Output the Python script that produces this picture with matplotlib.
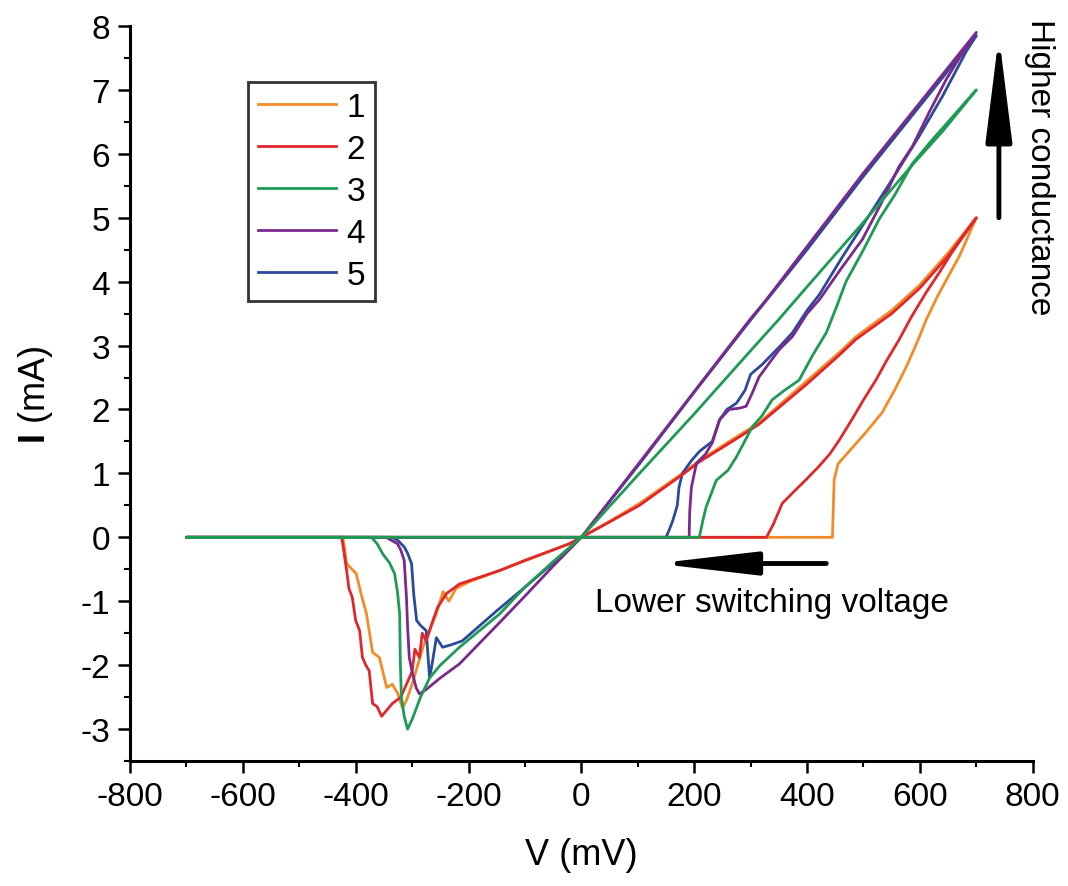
import matplotlib
matplotlib.use("Agg")
import matplotlib.pyplot as plt
from matplotlib.ticker import MultipleLocator

plt.rcParams['font.family'] = ['Liberation Sans', 'DejaVu Sans']
plt.rcParams['axes.unicode_minus'] = False
plt.rcParams['mathtext.fontset'] = 'custom'
plt.rcParams['mathtext.bf'] = 'Liberation Sans:bold'
plt.rcParams['mathtext.rm'] = 'Liberation Sans'

# sweep order: 0 -> +700 (set) -> 0 -> negative (reset) -> -700 -> 0
v1 = [0, 445, 448, 455, 475, 505, 533, 555, 576, 595, 611, 630, 647, 670, 685, 700,
      650, 600, 550, 487, 457, 400, 315, 280, 209, 179, 103, 50, 0,
      -21, -100, -145, -200, -222, -235, -245, -257, -269, -280, -290, -300, -310, -317,
      -325, -335, -345, -358, -370, -381, -390, -399, -416, -420, -423, -700, 0]
i1 = [0, 0, 0.9, 1.15, 1.35, 1.65, 1.95, 2.3, 2.67, 3.05, 3.4, 3.75, 4.03, 4.4, 4.7, 5.0,
      4.45, 3.95, 3.55, 3.14, 2.89, 2.45, 1.79, 1.6, 1.2, 1.0, 0.53, 0.25, 0,
      -0.1, -0.37, -0.52, -0.7, -0.8, -1.0, -0.85, -1.19, -1.46, -1.7, -2.0, -2.3, -2.55, -2.67,
      -2.45, -2.3, -2.35, -1.88, -1.8, -1.19, -0.9, -0.57, -0.41, -0.15, 0, 0, 0]

v2 = [0, 328, 340, 356, 375, 398, 420, 440, 457, 480, 500, 522, 540, 563, 585, 611, 635, 657, 680, 700,
      650, 600, 550, 487, 457, 400, 315, 280, 209, 179, 103, 50, 0,
      -21, -100, -145, -216, -239, -255, -265, -275, -282, -287, -295, -300, -310, -320, -335,
      -354, -362, -370, -376, -382, -388, -393, -400, -406, -412, -416, -423, -425, -700, 0]
i2 = [0, 0, 0.2, 0.53, 0.7, 0.9, 1.1, 1.3, 1.52, 1.85, 2.15, 2.46, 2.75, 3.09, 3.45, 3.83, 4.15, 4.46, 4.75, 5.0,
      4.4, 3.9, 3.5, 3.1, 2.85, 2.4, 1.77, 1.57, 1.18, 0.98, 0.5, 0.24, 0,
      -0.1, -0.36, -0.52, -0.73, -0.88, -1.1, -1.35, -1.62, -1.5, -1.88, -1.75, -2.1, -2.3, -2.5, -2.6,
      -2.8, -2.65, -2.6, -2.09, -2.0, -1.88, -1.46, -1.3, -0.94, -0.8, -0.52, -0.1, 0, 0, 0]

v3 = [0, 209, 215, 221, 239, 260, 275, 303, 320, 338, 360, 386, 410, 434, 452, 469, 500, 528, 555, 587, 620, 660, 700,
      640, 587, 500, 400, 351, 300, 200, 103, 0,
      -50, -100, -145, -216, -250, -269, -285, -300, -308, -314, -319, -321, -322, -326, -331, -340, -352, -362, -372, -700, 0]
i3 = [0, 0, 0.25, 0.47, 0.89, 1.05, 1.26, 1.73, 1.9, 2.15, 2.3, 2.46, 2.85, 3.2, 3.6, 4.0, 4.5, 4.98, 5.35, 5.85, 6.2, 6.6, 7.0,
      6.35, 5.83, 4.93, 3.92, 3.42, 2.92, 1.93, 1.0, 0,
      -0.38, -0.78, -1.2, -1.72, -2.0, -2.2, -2.5, -2.85, -3.0, -2.8, -2.5, -1.9, -1.2, -0.85, -0.57, -0.4, -0.26, -0.1, 0, 0, 0]

v4 = [0, 191, 192, 195, 204, 220, 232, 245, 262, 280, 292, 303, 315, 335, 351, 374, 400, 422, 460, 498, 530, 563, 587, 617, 647, 670, 700,
      600, 500, 400, 328, 298, 200, 103, 0,
      -50, -100, -150, -216, -250, -275, -287, -293, -300, -305, -308, -310, -314, -320, -326, -346, -700, 0]
i4 = [0, 0, 0.4, 0.78, 1.16, 1.3, 1.48, 1.84, 2.0, 2.02, 2.05, 2.26, 2.51, 2.75, 2.94, 3.14, 3.5, 3.72, 4.2, 4.66, 5.2, 5.8, 6.12, 6.66, 7.17, 7.5, 7.9,
      6.8, 5.7, 4.55, 3.72, 3.4, 2.28, 1.17, 0,
      -0.45, -0.92, -1.38, -1.98, -2.2, -2.38, -2.45, -2.35, -2.1, -1.88, -1.4, -0.94, -0.36, -0.2, -0.1, 0, 0, 0]

v5 = [0, 150, 155, 162, 170, 173, 179, 195, 210, 232, 245, 258, 275, 290, 300, 320, 351, 374, 400, 422, 460, 500, 551, 599, 640, 682, 700,
      600, 500, 400, 300, 200, 103, 0,
      -50, -100, -150, -211, -230, -246, -257, -263, -269, -275, -285, -292, -297, -301, -308, -314, -325, -335, -700, 0]
i5 = [0, 0, 0.1, 0.26, 0.5, 0.78, 1.0, 1.2, 1.35, 1.5, 1.84, 2.0, 2.1, 2.3, 2.55, 2.7, 2.98, 3.2, 3.55, 3.8, 4.35, 4.9, 5.6, 6.28, 6.9, 7.6, 7.85,
      6.75, 5.65, 4.5, 3.4, 2.27, 1.15, 0,
      -0.4, -0.78, -1.15, -1.62, -1.68, -1.72, -1.57, -1.9, -2.2, -1.46, -1.38, -1.3, -0.9, -0.41, -0.25, -0.15, -0.05, 0, 0, 0]

labels = ["1", "2", "3", "4", "5"]
colors = ["#f28c28", "#e0282c", "#1f9a55", "#7a2a8c", "#2a4b9b"]
zorders = [2.2, 2.4, 2.6, 2.5, 2.3]

fig = plt.figure(figsize=(10.68, 8.87), dpi=100)
ax = fig.add_axes([0.1217, 0.1409, 0.8453, 0.8287])

for v, cur, lab, c, z in zip([v1, v2, v3, v4, v5], [i1, i2, i3, i4, i5], labels, colors, zorders):
    ax.plot(v, cur, color=c, lw=2.0, label=lab, zorder=z)

ax.set_xlim(-800, 800)
ax.set_ylim(-3.5, 8)
ax.xaxis.set_major_locator(MultipleLocator(200))
ax.xaxis.set_minor_locator(MultipleLocator(100))
ax.yaxis.set_major_locator(MultipleLocator(1))
ax.yaxis.set_minor_locator(MultipleLocator(0.5))

for s in ["top", "right"]:
    ax.spines[s].set_visible(False)
for s in ["left", "bottom"]:
    ax.spines[s].set_linewidth(2.2)

ax.tick_params(which="major", direction="out", length=8.5, width=1.8, labelsize=24, pad=6)
ax.tick_params(which="minor", direction="out", length=4.5, width=1.5)

ax.set_xlabel("V (mV)", fontsize=26, labelpad=18)
ax.set_ylabel(r"$\mathbf{I}$ (mA)", fontsize=26, labelpad=18)

handles, labs = ax.get_legend_handles_labels()
leg = ax.legend(handles, labs, loc="upper left", bbox_to_anchor=(248 / 1068, 1 - 83 / 887),
                bbox_transform=fig.transFigure, fontsize=24, frameon=True, fancybox=False,
                handlelength=2.35, handletextpad=0.3, labelspacing=0.33, borderpad=0.3,
                borderaxespad=0)
leg.get_frame().set_edgecolor("black")
leg.get_frame().set_linewidth(2)

# annotations
ax.annotate("", xy=(740, 7.85), xytext=(740, 5.0),
            arrowprops=dict(arrowstyle="-|>,head_length=3.2,head_width=0.4",
                            mutation_scale=20, lw=3.5, color="black", shrinkA=0, shrinkB=0))
fig.text(1040 / 1068, 1 - 167 / 887, "Higher conductance", rotation=270,
         fontsize=24, ha="center", va="center")

ax.annotate("", xy=(133, -0.41), xytext=(434, -0.41),
            arrowprops=dict(arrowstyle="-|>,head_length=3.0,head_width=0.35",
                            mutation_scale=20, lw=3.5, color="black", shrinkA=0, shrinkB=0))
ax.text(337, -1.02, "Lower switching voltage", fontsize=24, ha="center", va="center")

fig.savefig("out.png", dpi=100)
